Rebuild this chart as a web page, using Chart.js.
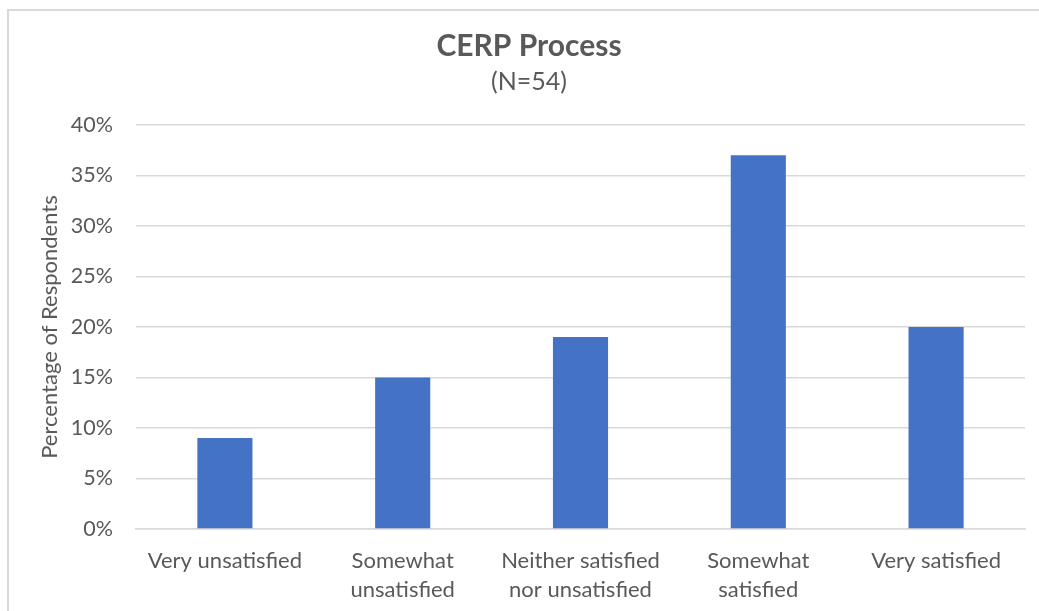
<!DOCTYPE html>
<html lang="en">
<head>
  <meta charset="UTF-8">
  <title>CERP Process</title>
  <script src="https://cdn.jsdelivr.net/npm/chart.js"></script>
  <style>
    body {
      margin: 0;
      background: #fff;
      overflow: hidden;
    }

    .frame {
      position: absolute;
      left: 7px;
      top: 9px;
      width: 1040px;
      height: 610px;
      border: 2px solid #d9d9d9;
      background: #fff;
    }
  </style>
</head>
<body>
  <div class="frame">
    <canvas id="cerpChart" width="1040" height="610"></canvas>
  </div>

  <script>
    const categories = [
      "Very unsatisfied",
      ["Somewhat", "unsatisfied"],
      ["Neither satisfied", "nor unsatisfied"],
      ["Somewhat", "satisfied"],
      "Very satisfied"
    ];
    const percentages = [9, 15, 19, 37, 20];

    const grey = "#595959";
    const font = "Lato, 'Open Sans', sans-serif";

    new Chart(document.getElementById("cerpChart"), {
      type: "bar",
      data: {
        labels: categories,
        datasets: [{
          data: percentages,
          backgroundColor: "#4472c4",
          categoryPercentage: 1,
          barPercentage: 0.31
        }]
      },
      options: {
        responsive: false,
        animation: false,
        layout: { padding: { left: 24, right: 24, top: 0, bottom: 18 } },
        plugins: {
          legend: { display: false },
          tooltip: { enabled: false },
          title: {
            display: true,
            text: "CERP Process",
            color: grey,
            font: { family: font, size: 30, weight: "bold", lineHeight: 1.2 },
            padding: { top: 17, bottom: 2 }
          },
          subtitle: {
            display: true,
            text: "(N=54)",
            color: grey,
            font: { family: font, size: 25, lineHeight: 1.2 },
            padding: { top: 1, bottom: 28 }
          }
        },
        scales: {
          y: {
            min: 0,
            max: 40,
            afterFit: s => { s.width = 103; },
            ticks: {
              stepSize: 5,
              color: grey,
              padding: 23,
              font: { family: font, size: 21.5 },
              callback: v => v + "%"
            },
            grid: { color: "#d9d9d9", lineWidth: 1.5, drawTicks: false },
            border: { display: false },
            title: {
              display: true,
              text: "Percentage of Respondents",
              color: grey,
              font: { family: font, size: 22 },
              padding: { top: 4, bottom: 0 }
            }
          },
          x: {
            afterFit: s => { s.height = 74; },
            ticks: {
              color: grey,
              padding: 9,
              maxRotation: 0,
              font: { family: font, size: 22, lineHeight: 1.32 }
            },
            grid: { display: false },
            border: { color: "#d9d9d9", width: 1.5 }
          }
        }
      }
    });
  </script>
</body>
</html>
